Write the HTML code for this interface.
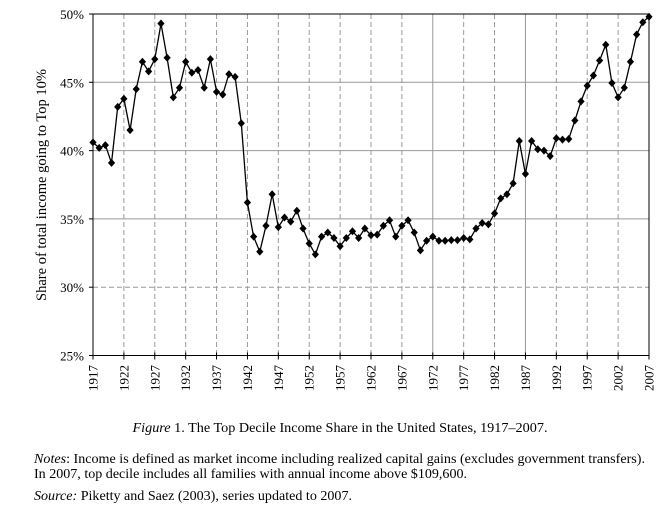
<!DOCTYPE html>
<html><head><meta charset="utf-8"><style>
body{margin:0;background:#fff}
svg{display:block;font-family:"Liberation Serif",serif}
</style></head><body>
<svg id="s" width="660" height="513" viewBox="0 0 660 513" xmlns="http://www.w3.org/2000/svg">
<rect width="660" height="513" fill="#fff"/>
<g id="grid"></g>
<text x="0" y="0" transform="translate(46,185) rotate(-90)" text-anchor="middle" font-size="14.5">Share of total income going to Top 10%</text>
<text x="340" y="432" text-anchor="middle" font-size="14" textLength="415" lengthAdjust="spacingAndGlyphs"><tspan font-style="italic">Figure</tspan> 1. The Top Decile Income Share in the United States, 1917–2007.</text>
<text x="34" y="463" font-size="14" textLength="611" lengthAdjust="spacingAndGlyphs"><tspan font-style="italic">Notes</tspan>: Income is defined as market income including realized capital gains (excludes government transfers).</text>
<text x="34" y="478" font-size="14" textLength="433" lengthAdjust="spacingAndGlyphs">In 2007, top decile includes all families with annual income above $109,600.</text>
<text x="34" y="500" font-size="14" textLength="318" lengthAdjust="spacingAndGlyphs"><tspan font-style="italic">Source:</tspan> Piketty and Saez (2003), series updated to 2007.</text>
</svg>
<script>
var d=[40.6,40.2,40.4,39.1,43.2,43.8,41.5,44.5,46.5,45.8,46.7,49.3,46.8,43.9,44.6,46.5,45.7,45.9,44.6,46.7,44.3,44.1,45.6,45.4,42.0,36.2,33.7,32.6,34.5,36.8,34.4,35.1,34.8,35.6,34.3,33.2,32.4,33.7,34.0,33.6,33.0,33.6,34.1,33.6,34.3,33.8,33.85,34.5,34.9,33.7,34.5,34.9,34.0,32.7,33.4,33.7,33.4,33.4,33.45,33.45,33.6,33.5,34.3,34.7,34.6,35.4,36.5,36.8,37.6,40.7,38.3,40.7,40.1,40.0,39.6,40.9,40.8,40.85,42.2,43.6,44.75,45.5,46.6,47.75,44.95,43.9,44.6,46.5,48.5,49.4,49.8];
var L=93,R=649,T=14,B=355.5;
function X(i){return L+(R-L)*i/90}
function Y(v){return T+(50-v)/25*(B-T)}
var h='';
[45,40,35,30].forEach(function(v){var y=Y(v);h+='<line x1="'+L+'" x2="'+R+'" y1="'+y+'" y2="'+y+'" stroke="#999" stroke-width="1"'+(v==30?' stroke-dasharray="5,3"':'')+'/>';});
for(var i=5;i<90;i+=5){var x=X(i);var solid=(i==55||i==70);h+='<line x1="'+x+'" x2="'+x+'" y1="'+T+'" y2="'+B+'" stroke="#999" stroke-width="1"'+(solid?'':' stroke-dasharray="5,3"')+'/>';}
h+='<rect x="'+L+'" y="'+T+'" width="'+(R-L)+'" height="'+(B-T)+'" fill="none" stroke="#000" stroke-width="1"/>';
[50,45,40,35,30,25].forEach(function(v){var y=Y(v);h+='<line x1="'+(L-4)+'" x2="'+L+'" y1="'+y+'" y2="'+y+'" stroke="#000"/>';h+='<text x="84" y="'+(y+5)+'" text-anchor="end" font-size="13">'+v+'%</text>';});
for(var i=0;i<=90;i+=5){var x=X(i);h+='<line x1="'+x+'" x2="'+x+'" y1="'+(B-3)+'" y2="'+(B+4)+'" stroke="#000"/>';h+='<text transform="translate('+(x+4.5)+',378) rotate(-90)" text-anchor="middle" font-size="13">'+(1917+i)+'</text>';}
var p='';d.forEach(function(v,i){p+=(i?'L':'M')+X(i).toFixed(1)+','+Y(v).toFixed(1);});
h+='<path d="'+p+'" fill="none" stroke="#000" stroke-width="1.3"/>';
d.forEach(function(v,i){var x=X(i),y=Y(v);h+='<path d="M'+x+','+(y-4)+'L'+(x+3.6)+','+y+'L'+x+','+(y+4)+'L'+(x-3.6)+','+y+'Z" fill="#000"/>';});
document.getElementById('grid').innerHTML=h;
</script>
</body></html>
